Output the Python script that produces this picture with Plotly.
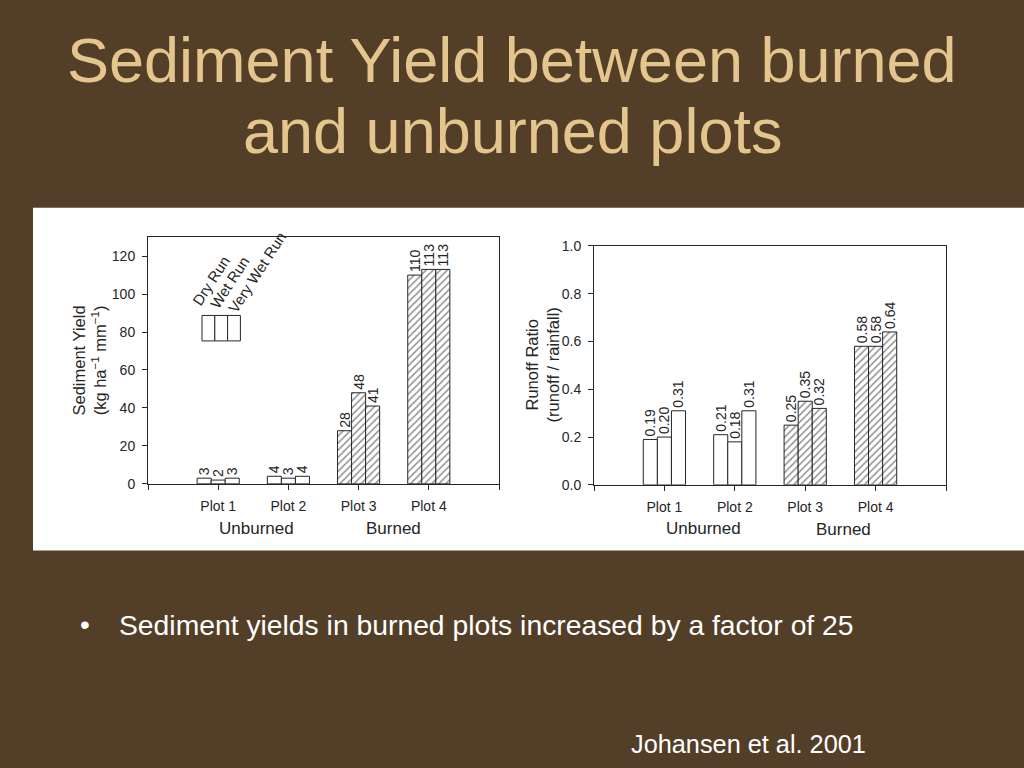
import plotly.graph_objects as go

# ---------------- data ----------------
plots = ["Plot 1", "Plot 2", "Plot 3", "Plot 4"]
runs = ["Dry Run", "Wet Run", "Very Wet Run"]
treatment = ["Unburned", "Unburned", "Burned", "Burned"]

sediment_dry = [3, 4, 28, 110]
sediment_wet = [2, 3, 48, 113]
sediment_vwet = [3, 4, 41, 113]

runoff_dry = [0.19, 0.21, 0.25, 0.58]
runoff_wet = [0.20, 0.18, 0.35, 0.58]
runoff_vwet = [0.31, 0.31, 0.32, 0.64]

sed_ticks = [0, 20, 40, 60, 80, 100, 120]
runoff_ticks = [0.0, 0.2, 0.4, 0.6, 0.8, 1.0]

title_lines = ["Sediment Yield between burned", "and unburned plots"]
bullet = "Sediment yields in burned plots increased by a factor of 25"
citation = "Johansen et al. 2001"

# ---------------- style ----------------
BG = "#533F28"
TAN = "#E4C58E"
INK = "#262626"
FONT = "Liberation Sans, Arial, sans-serif"
W, H = 1024, 768

def px_x(p):
    return p / W

def px_y(p):
    return 1 - p / H

xs = list(range(len(plots)))
shapes_pat = ["/" if t == "Burned" else "" for t in treatment]

fig = go.Figure()

sed_series = [sediment_dry, sediment_wet, sediment_vwet]
run_series = [runoff_dry, runoff_wet, runoff_vwet]

def add_bars(series, xa, ya, fmt):
    for i, (name, vals) in enumerate(zip(runs, series)):
        fig.add_trace(go.Bar(
            x=xs, y=vals, name=name, xaxis=xa, yaxis=ya,
            offsetgroup=str(i),
            text=[fmt(v) for v in vals],
            textposition="outside", textangle=-90, constraintext="none",
            cliponaxis=False,
            textfont=dict(family=FONT, size=14, color=INK),
            marker=dict(color="white",
                        line=dict(color=INK, width=1),
                        pattern=dict(shape=shapes_pat, fgcolor="#222222",
                                     bgcolor="white", size=5, solidity=0.3)),
            showlegend=False, hoverinfo="skip",
        ))

add_bars(sed_series, "x", "y", lambda v: f"{v:d}")
add_bars(run_series, "x2", "y2", lambda v: f"{v:.2f}")

xcommon = dict(range=[-1, len(plots)], tickvals=xs, ticktext=plots,
               ticks="outside", ticklen=5, tickcolor=INK, showline=True,
               linecolor=INK, linewidth=1, mirror=True, showgrid=False,
               zeroline=False, ticklabelstandoff=4,
               minor=dict(tickvals=[-1, len(plots)], ticks="outside", ticklen=5,
                          tickcolor=INK, showgrid=False),
               tickfont=dict(family=FONT, size=14, color=INK))
ycommon = dict(ticks="outside", ticklen=5, tickcolor=INK, showline=True,
               linecolor=INK, linewidth=1, mirror=True, showgrid=False,
               zeroline=False, ticklabelstandoff=4,
               tickfont=dict(family=FONT, size=14, color=INK))
ymirror = dict(ticks="inside", ticklen=5, tickcolor=INK, showline=False,
               showgrid=False, zeroline=False, showticklabels=False,
               side="right")

L_dom_x = [px_x(148), px_x(499)]
L_dom_y = [px_y(486), px_y(234)]
R_dom_x = [px_x(594), px_x(946)]
R_dom_y = [px_y(487), px_y(243)]

fig.update_layout(
    width=W, height=H,
    margin=dict(l=0, r=0, t=0, b=0),
    paper_bgcolor=BG, plot_bgcolor="white",
    barmode="group", bargap=0.4, bargroupgap=0,
    xaxis=dict(domain=L_dom_x, anchor="y", **xcommon),
    yaxis=dict(domain=L_dom_y, anchor="x", range=[0, 130], tickvals=sed_ticks, **ycommon),
    yaxis3=dict(overlaying="y", anchor="x", range=[0, 130], tickvals=sed_ticks, **ymirror),
    xaxis2=dict(domain=R_dom_x, anchor="y2", **xcommon),
    yaxis2=dict(domain=R_dom_y, anchor="x2", range=[0, 1.0], tickvals=runoff_ticks,
                tickformat=".1f", **ycommon),
    yaxis4=dict(overlaying="y2", anchor="x2", range=[0, 1.0], tickvals=runoff_ticks, **ymirror),
)

# white panel behind charts
fig.add_shape(type="rect", xref="paper", yref="paper",
              x0=px_x(33), x1=1, y0=px_y(554), y1=px_y(204),
              fillcolor="white", line=dict(width=0), layer="below")

ann = []
# slide title
for line, ypix in zip(title_lines, [53, 126]):
    ann.append(dict(text=line, x=0.5, y=px_y(ypix), xref="paper", yref="paper",
                    xanchor="center", yanchor="middle", showarrow=False,
                    font=dict(family=FONT, size=63, color=TAN)))
# bullet
ann.append(dict(text="•", x=px_x(85), y=px_y(630), xref="paper", yref="paper",
                xanchor="center", yanchor="middle", showarrow=False,
                font=dict(family=FONT, size=28, color="white")))
ann.append(dict(text=bullet, x=px_x(117), y=px_y(630), xref="paper", yref="paper",
                xanchor="left", yanchor="middle", showarrow=False,
                font=dict(family=FONT, size=28.3, color="white")))
ann.append(dict(text=citation, x=px_x(868), y=px_y(752), xref="paper", yref="paper",
                xanchor="right", yanchor="middle", showarrow=False,
                font=dict(family=FONT, size=25.3, color="white")))

# y-axis titles
ann.append(dict(text="Sediment Yield<br>(kg ha<sup>−1</sup> mm<sup>−1</sup>)",
                x=px_x(89), y=(L_dom_y[0] + L_dom_y[1]) / 2, xref="paper", yref="paper",
                xanchor="center", yanchor="middle", textangle=-90, showarrow=False,
                font=dict(family=FONT, size=16.5, color=INK)))
ann.append(dict(text="Runoff Ratio<br>(runoff / rainfall)",
                x=px_x(542), y=(R_dom_y[0] + R_dom_y[1]) / 2, xref="paper", yref="paper",
                xanchor="center", yanchor="middle", textangle=-90, showarrow=False,
                font=dict(family=FONT, size=16.5, color=INK)))

# group labels (Unburned / Burned)
for xr, xpos, ypix in [("x", 0.55, 532), ("x", 2.5, 532), ("x2", 0.55, 532), ("x2", 2.55, 533)]:
    idx = 0 if xpos < 1.5 else 2
    ann.append(dict(text=treatment[idx], x=xpos, y=px_y(ypix), xref=xr, yref="paper",
                    xanchor="center", yanchor="middle", showarrow=False,
                    font=dict(family=FONT, size=17, color=INK)))

# legend key inside left chart (decoration placed in pixel space)
box_left, box_w, box_top, box_bot = 202, 12.8, 314, 340
label_x = [186, 204, 222]
label_y = [309, 313, 317]
for i, name in enumerate(runs):
    x0 = box_left + i * box_w
    fig.add_shape(type="rect", xref="paper", yref="paper",
                  x0=px_x(x0), x1=px_x(x0 + box_w),
                  y0=px_y(box_bot), y1=px_y(box_top),
                  line=dict(color=INK, width=1), fillcolor="white")
    ann.append(dict(text=name, x=px_x(label_x[i]), y=px_y(label_y[i]),
                    xref="paper", yref="paper",
                    xanchor="left", yanchor="bottom", textangle=-57, showarrow=False,
                    font=dict(family=FONT, size=15, color=INK)))

fig.update_layout(annotations=ann)

fig.write_html("out.html", config={"displayModeBar": False},
               post_script="document.body.style.margin='0';")
